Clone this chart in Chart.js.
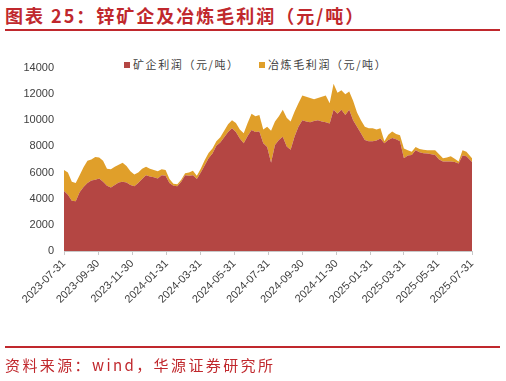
<!DOCTYPE html>
<html><head><meta charset="utf-8">
<script src="https://cdn.jsdelivr.net/npm/chart.js@4/dist/chart.umd.min.js"></script>
<style>
html,body{margin:0;padding:0;background:#fff;width:506px;height:381px;overflow:hidden;position:relative;font-family:"Noto Sans CJK SC","Noto Sans",sans-serif}
#title{position:absolute;left:5px;top:4px;font-size:18px;font-weight:bold;color:#c0282d;letter-spacing:2px;white-space:nowrap;line-height:22px}
.rule{position:absolute;left:5px;width:495px;height:2px;background:#c0282d}
#src{position:absolute;left:5px;top:355px;font-size:15px;color:#c0282d;letter-spacing:2.4px;white-space:nowrap;line-height:20px}
.leg{position:absolute;top:57px;font-size:11px;color:#404040;white-space:nowrap;line-height:14px;letter-spacing:1.6px}
.leg i{display:inline-block;width:6px;height:6px;margin-right:3px;vertical-align:1px}
canvas{position:absolute;left:0;top:0}
</style></head>
<body>
<div id="title">图表 25：锌矿企及冶炼毛利润（元/吨）</div>
<div class="rule" style="top:29px"></div>
<div class="leg" style="left:124px"><i style="background:#b44643"></i>矿企利润（元/吨）</div>
<div class="leg" style="left:259px"><i style="background:#e09f2a"></i>冶炼毛利润（元/吨）</div>
<canvas id="c" width="506" height="381"></canvas>
<div class="rule" style="top:346px"></div>
<div id="src">资料来源：wind，华源证券研究所</div>
<script>
const startDate = '2023-07-31';
const endDate = '2025-07-31';
const tickLabels = ['2023-07-31','2023-09-30','2023-11-30','2024-01-31','2024-03-31','2024-05-31','2024-07-31','2024-09-30','2024-11-30','2025-01-31','2025-03-31','2025-05-31','2025-07-31'];
const yTicks = [0,2000,4000,6000,8000,10000,12000,14000];
const mineProfit = [4590,4300,3850,3800,4500,4900,5200,5400,5450,5550,5300,5000,4850,5050,5250,5300,5250,5050,4950,5200,5500,5800,5700,5650,5550,5800,5750,5200,5000,4950,5300,5800,5750,5800,5500,6000,6550,7100,7450,8050,8300,8700,9100,9400,9100,8600,8250,8800,9250,9100,9150,8250,7950,6750,8100,8500,8750,8000,7750,8750,9500,10000,9900,9850,9950,10000,9900,9850,9750,10800,10500,10800,10400,10800,10000,9500,9000,8500,8400,8400,8450,8600,8250,8500,8650,8550,8400,7100,7300,7350,7700,7550,7480,7450,7400,7350,7000,6850,6850,6850,6800,6700,7300,7250,6800];
const smeltProfit = [1610,1700,1450,1400,1300,1500,1700,1600,1750,1600,1600,1300,1400,1400,1350,1450,1250,1050,900,800,800,650,600,550,550,450,450,300,150,150,150,150,250,330,250,300,400,400,400,350,400,500,600,600,700,700,750,1000,1250,1200,1250,1050,1550,2450,1800,1800,2050,2200,2150,1900,1800,1900,1900,1850,1650,1700,1900,2050,1550,2000,1600,1500,1600,1400,1500,1100,1000,1000,1000,1000,850,800,150,400,500,400,450,750,400,250,250,250,270,250,300,350,400,250,300,400,250,150,400,350,300];

const DAY = 86400000;
const t0 = Date.parse(startDate);
const dayOf = s => (Date.parse(s) - t0) / DAY;
const lastDay = dayOf(endDate);
// weekly observation dates (last one is the end date)
const obsDays = mineProfit.map((_, i) => i === mineProfit.length - 1 ? lastDay : i * 7);
const tickDays = tickLabels.map(dayOf);

const ctx = document.getElementById('c');
new Chart(ctx, {
  type: 'line',
  data: {
    datasets: [
      { label: '矿企利润（元/吨）', data: obsDays.map((d, i) => ({x: d, y: mineProfit[i]})),
        backgroundColor: '#b44643', borderWidth: 0, pointRadius: 0, fill: 'origin', tension: 0 },
      { label: '冶炼毛利润（元/吨）', data: obsDays.map((d, i) => ({x: d, y: smeltProfit[i]})),
        backgroundColor: '#e09f2a', borderWidth: 0, pointRadius: 0, fill: '-1', tension: 0 }
    ]
  },
  options: {
    responsive: false, animation: false,
    layout: { padding: { top: 68, right: 34, left: 0, bottom: 0 } },
    plugins: { legend: { display: false }, tooltip: { enabled: false }, title: { display: false } },
    scales: {
      x: {
        type: 'linear', min: 0, max: lastDay,
        afterBuildTicks: s => { s.ticks = tickDays.map(v => ({ value: v })); },
        afterFit: s => { s.height = 381 - 251; },
        ticks: {
          autoSkip: false, maxRotation: 45, minRotation: 45, padding: 2,
          color: '#404040', font: { family: 'Liberation Sans, Arial', size: 11 },
          callback: v => { const k = tickDays.indexOf(v); return k >= 0 ? tickLabels[k] : ''; }
        },
        grid: { drawOnChartArea: false, drawTicks: true, tickLength: 4, color: '#c8c8c8' },
        border: { display: true, color: '#c8c8c8' }
      },
      y: {
        stacked: true, min: 0, max: 14000,
        afterBuildTicks: s => { s.ticks = yTicks.map(v => ({ value: v })); },
        afterFit: s => { s.width = 64; },
        ticks: { padding: 10, color: '#404040', font: { family: 'Liberation Sans, Arial', size: 11 },
          callback: v => String(v) },
        grid: { display: false, drawTicks: false },
        border: { display: false }
      }
    }
  }
});
</script>
</body></html>
